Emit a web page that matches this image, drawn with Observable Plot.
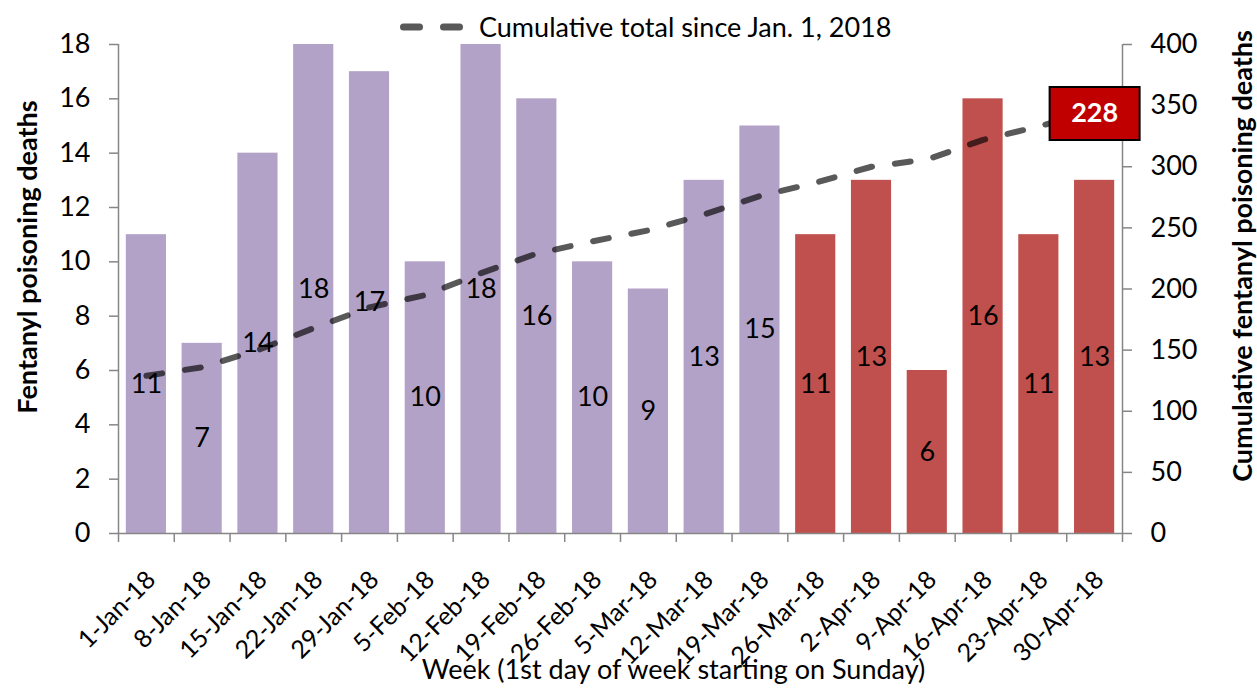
<!DOCTYPE html>
<html>
<head>
<meta charset="utf-8">
<script src="https://cdn.jsdelivr.net/npm/d3@7"></script>
<script src="https://cdn.jsdelivr.net/npm/@observablehq/plot@0.6"></script>
<style>
  html, body { margin: 0; padding: 0; background: white; }
  #wrap { position: relative; width: 1257px; height: 691px; overflow: hidden; font-family: Lato, sans-serif; }
  #legend { position: absolute; left: 397px; top: 10px; display: flex; align-items: center; font: 27px Lato, sans-serif; color: black; z-index: 2; }
  #legend span { margin-left: 12px; }
</style>
</head>
<body>
<div id="wrap">
  <div id="legend"></div>
  <div id="chart"></div>
</div>
<script>
const weeks = ["1-Jan-18","8-Jan-18","15-Jan-18","22-Jan-18","29-Jan-18","5-Feb-18","12-Feb-18","19-Feb-18","26-Feb-18","5-Mar-18","12-Mar-18","19-Mar-18","26-Mar-18","2-Apr-18","9-Apr-18","16-Apr-18","23-Apr-18","30-Apr-18"];
const deaths = [11,7,14,18,17,10,18,16,10,9,13,15,11,13,6,16,11,13];
const cumulative = [129,136,150,168,185,195,213,229,239,248,261,276,287,300,306,322,333,346];
const period = ["earlier","earlier","earlier","earlier","earlier","earlier","earlier","earlier","earlier","earlier","earlier","earlier","recent","recent","recent","recent","recent","recent"];
const leftTicks = [0,2,4,6,8,10,12,14,16,18];
const rightTicks = [0,50,100,150,200,250,300,350,400];
const boxLabel = "228";
const legendLabel = "Cumulative total since Jan. 1, 2018";
const xTitle = "Week (1st day of week starting on Sunday)";
const yTitle = "Fentanyl poisoning deaths";
const y2Title = "Cumulative fentanyl poisoning deaths";

const table = weeks.map((w, i) => ({week: w, deaths: deaths[i], cum: cumulative[i], period: period[i]}));
const last = table[table.length - 1];

const W = 1257, H = 691, mL = 118, mR = 135, mT = 44, mB = 158;
const step = (W - mL - mR) / weeks.length;
const k = 18 / 400; // right axis -> left axis units
const axisGray = "#868686";
const fs = 27;

const boxSymbol = {
  draw(ctx) {
    ctx.moveTo(-45, -26.5);
    ctx.lineTo(45, -26.5);
    ctx.lineTo(45, 26.5);
    ctx.lineTo(-45, 26.5);
    ctx.closePath();
  }
};

const chart = Plot.plot({
  width: W, height: H,
  marginLeft: mL, marginRight: mR, marginTop: mT, marginBottom: mB,
  style: {fontFamily: "Lato, sans-serif", fontSize: fs + "px", color: "black", background: "white", overflow: "visible"},
  x: {domain: weeks, paddingInner: 0.28, paddingOuter: 0.14, round: false},
  y: {domain: [0, 18]},
  color: {domain: ["earlier", "recent"], range: ["#b3a2c7", "#c0504d"]},
  marks: [
    Plot.barY(table, {x: "week", y: "deaths", fill: "period"}),
    Plot.ruleY([0], {stroke: axisGray, strokeWidth: 1.5}),
    Plot.ruleX([weeks[0]], {dx: -step / 2, y1: 0, y2: 18, stroke: axisGray, strokeWidth: 1.5}),
    Plot.ruleX([weeks[weeks.length - 1]], {dx: step / 2, y1: 0, y2: 18, stroke: axisGray, strokeWidth: 1.5}),
    Plot.ruleX(weeks, {dx: -step / 2, y1: 0, y2: -0.33, stroke: axisGray, strokeWidth: 1.5}),
    Plot.ruleX([weeks[weeks.length - 1]], {dx: step / 2, y1: 0, y2: -0.33, stroke: axisGray, strokeWidth: 1.5}),
    Plot.text(table, {x: "week", y: d => d.deaths / 2, text: d => String(d.deaths), fill: "black", fontSize: fs}),
    Plot.line(table, {x: "week", y: d => d.cum * k, stroke: "black", strokeOpacity: 0.65, strokeWidth: 6, strokeDasharray: "16,23", strokeLinecap: "round"}),
    Plot.axisY(leftTicks, {anchor: "left", tickSize: 9, tickPadding: 19, stroke: axisGray, strokeWidth: 1.5, fill: "black", fontSize: fs, label: null}),
    Plot.axisY(rightTicks.map(v => v * k), {anchor: "right", tickSize: 9, tickPadding: 19, stroke: axisGray, strokeWidth: 1.5, fill: "black", fontSize: fs, label: null, tickFormat: d => String(Math.round(d / k))}),
    Plot.axisX({tickSize: 0, tickRotate: -45, tickPadding: 42, dx: 5, fill: "black", fontSize: 25, label: null}),
    Plot.dot([last], {x: "week", y: d => d.cum * k, dy: 3, symbol: boxSymbol, fill: "#c00000", stroke: "black", strokeWidth: 2}),
    Plot.text([last], {x: "week", y: d => d.cum * k, dy: 3, text: () => boxLabel, fill: "white", fontWeight: "bold", fontSize: 27}),
    Plot.text([xTitle], {frameAnchor: "bottom", dx: 53, dy: 145, fill: "black", fontSize: fs}),
    Plot.text([yTitle], {frameAnchor: "left", textAnchor: "middle", rotate: -90, dx: -90, dy: -32, fill: "black", fontSize: fs, fontWeight: "bold"}),
    Plot.text([y2Title], {frameAnchor: "right", textAnchor: "middle", rotate: -90, dx: 121, dy: -33, fill: "black", fontSize: fs, fontWeight: "bold"})
  ]
});
document.getElementById("chart").appendChild(chart);

const legend = d3.select("#legend");
const sw = legend.append("svg").attr("width", 70).attr("height", 12);
sw.append("line").attr("x1", 6.5).attr("x2", 62.5).attr("y1", 6).attr("y2", 6)
  .attr("stroke", "#595959").attr("stroke-width", 7).attr("stroke-linecap", "round").attr("stroke-dasharray", "16 24");
legend.append("span").text(legendLabel);
</script>
</body>
</html>
